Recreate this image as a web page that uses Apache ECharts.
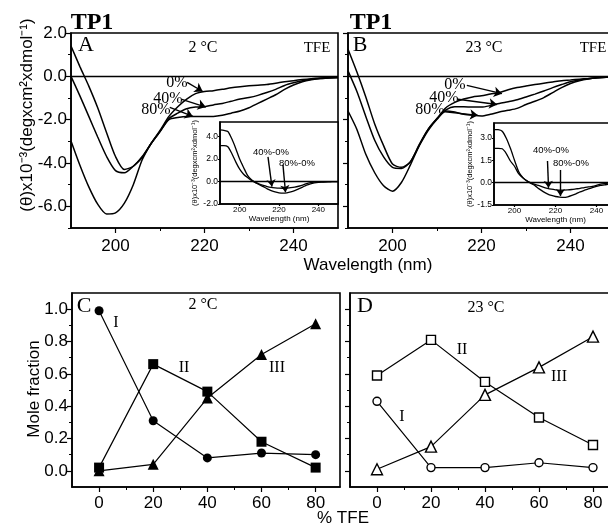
<!DOCTYPE html>
<html>
<head>
<meta charset="utf-8">
<script src="https://cdn.jsdelivr.net/npm/echarts@6/dist/echarts.min.js"></script>
<style>
  html, body { margin: 0; padding: 0; background: #fff; }
  #chart { width: 608px; height: 532px; }
</style>
</head>
<body>
<div id="chart"></div>
<script>
// wavelength grid (nm) shared by all CD curves
const wavelength = [190, 192, 194, 196, 198, 200, 202, 204, 206, 208, 210, 212, 214, 216, 218, 220,
                    222, 224, 226, 228, 230, 232, 234, 236, 238, 240, 242, 244, 246, 248, 250];

// panel A, 2 °C, (θ)x10^-3
const cdA_0  = [-2.98, -4.1, -5.1, -5.9, -6.35, -6.3, -5.85, -5.0, -3.85, -3.1, -2.5, -1.85, -1.4, -1.05, -0.8, -0.7,
                -0.66, -0.6, -0.53, -0.48, -0.44, -0.41, -0.38, -0.32, -0.25, -0.2, -0.15, -0.11, -0.08, -0.06, -0.05];
const cdA_40 = [0.0, -0.9, -1.85, -2.8, -3.7, -4.35, -4.45, -4.15, -3.75, -3.1, -2.55, -1.95, -1.7, -1.5, -1.42, -1.4,
                -1.32, -1.25, -1.15, -1.05, -0.98, -0.88, -0.75, -0.6, -0.42, -0.3, -0.2, -0.14, -0.1, -0.07, -0.05];
const cdA_80 = [1.4, 0.45, -0.45, -1.45, -2.6, -3.7, -4.3, -4.15, -3.7, -3.1, -2.55, -2.0, -1.9, -1.85, -1.85, -1.85,
                -1.85, -1.8, -1.7, -1.6, -1.45, -1.25, -1.05, -0.85, -0.6, -0.4, -0.25, -0.16, -0.1, -0.08, -0.05];

// panel B, 23 °C
const cdB_0  = [-1.6, -2.45, -3.6, -4.45, -5.05, -5.3, -4.9, -4.1, -3.2, -2.45, -1.95, -1.45, -1.2, -1.05, -0.95, -0.9,
                -0.82, -0.75, -0.62, -0.52, -0.45, -0.38, -0.32, -0.26, -0.2, -0.17, -0.13, -0.1, -0.07, -0.04, -0.02];
const cdB_40 = [0.25, -0.7, -1.85, -2.95, -3.72, -4.2, -4.25, -3.95, -3.15, -2.45, -1.95, -1.55, -1.4, -1.4, -1.42, -1.42,
                -1.35, -1.25, -1.17, -1.08, -0.95, -0.82, -0.68, -0.52, -0.38, -0.25, -0.17, -0.11, -0.07, -0.04, -0.02];
const cdB_80 = [1.25, 0.2, -0.95, -2.2, -3.2, -4.05, -4.2, -3.95, -3.2, -2.5, -1.98, -1.6, -1.65, -1.75, -1.8, -1.83,
                -1.75, -1.65, -1.57, -1.48, -1.3, -1.15, -0.98, -0.75, -0.52, -0.33, -0.2, -0.12, -0.07, -0.04, -0.02];

// difference spectra in the insets
const difA_40 = [3.2, 3.2, 3.1, 2.5, 1.75, 1.1, 0.65, 0.35, 0.1, -0.07, -0.22, -0.35, -0.45, -0.52, -0.56, -0.59,
                 -0.6, -0.58, -0.55, -0.5, -0.42, -0.32, -0.18, -0.1, -0.06, -0.04, -0.03, -0.02, -0.01, 0, 0];
const difA_80 = [4.6, 4.55, 4.45, 3.8, 2.95, 2.0, 1.25, 0.55, 0.15, -0.1, -0.27, -0.45, -0.65, -0.8, -0.92, -1.0,
                 -1.03, -1.0, -0.92, -0.8, -0.65, -0.5, -0.32, -0.2, -0.12, -0.07, -0.05, -0.03, -0.02, -0.01, 0];
const difB_40 = [2.3, 2.3, 2.27, 1.95, 1.45, 1.1, 0.6, 0.33, 0.12, -0.02, -0.12, -0.2, -0.3, -0.38, -0.44, -0.48,
                 -0.5, -0.5, -0.49, -0.46, -0.42, -0.38, -0.33, -0.29, -0.25, -0.18, -0.1, -0.06, -0.03, -0.01, 0];
const difB_80 = [3.56, 3.55, 3.45, 2.98, 2.3, 1.5, 0.75, 0.35, 0.12, -0.05, -0.2, -0.42, -0.6, -0.75, -0.86, -0.93,
                 -0.97, -0.99, -0.95, -0.86, -0.75, -0.62, -0.52, -0.42, -0.33, -0.25, -0.19, -0.15, -0.1, -0.06, -0.03];

// mole fractions vs % TFE
const tfe = [0, 20, 40, 60, 80];
const fracC_I   = [0.99, 0.31, 0.08, 0.11, 0.10];
const fracC_II  = [0.02, 0.66, 0.49, 0.18, 0.02];
const fracC_III = [0.0, 0.04, 0.45, 0.72, 0.91];
const fracD_I   = [0.43, 0.02, 0.02, 0.05, 0.02];
const fracD_II  = [0.59, 0.81, 0.55, 0.33, 0.16];
const fracD_III = [0.01, 0.15, 0.47, 0.64, 0.83];

// tick labels
const wlTicks = [200, 220, 240];
const wlMinor = [210, 230];
const cdTicks = [-6, -4, -2, 0, 2];
const cdMinor = [-7, -5, -3, -1, 1];
const insetTicksA = [-2, 0, 2, 4];
const insetTicksB = [-1.5, 0, 1.5, 3];
const tfeTicks = [0, 20, 40, 60, 80];
const tfeMinor = [10, 30, 50, 70];
const fracTicks = [0, 0.2, 0.4, 0.6, 0.8, 1.0];
const fracMinor = [0.1, 0.3, 0.5, 0.7, 0.9];

const SANS = '"Liberation Sans", Arial, sans-serif';
const SERIF = '"Liberation Serif", "Times New Roman", serif';

const chart = echarts.init(document.getElementById('chart'));

const grids = [
  {left: 71, top: 33, width: 267, height: 195},   // A
  {left: 348, top: 33, width: 267, height: 195},  // B
  {left: 220, top: 122, width: 118, height: 82},  // inset A
  {left: 494, top: 123, width: 123, height: 82},  // inset B
  {left: 72, top: 293, width: 268, height: 194},  // C
  {left: 350, top: 293, width: 270, height: 194}  // D
].map(g => Object.assign({show: true, borderColor: '#000', borderWidth: 1.6, backgroundColor: '#fff',
                          outerBoundsMode: 'none', containLabel: false}, g));

const xAxis = [], yAxis = [];

function addAxis(list, dim, grid, min, max, majors, minors, o) {
  o = o || {};
  list.push({
    type: 'value', gridIndex: grid, min: min, max: max,
    position: dim === 'x' ? 'bottom' : 'left',
    axisLine: {show: true, onZero: false, lineStyle: {color: '#000', width: 1.6}},
    axisTick: {show: true, customValues: majors, length: o.tick || 5, lineStyle: {color: '#000', width: 1.2}},
    axisLabel: {show: !!o.label, customValues: majors, formatter: o.fmt, color: '#000',
                fontFamily: SANS, fontSize: o.size || 17, margin: o.margin || 5},
    name: o.name || '', nameLocation: 'middle', nameGap: o.nameGap || 10,
    nameTextStyle: {fontFamily: SANS, fontSize: o.nameSize || 8, color: '#000'},
    splitLine: {show: false}
  });
  const idx = list.length - 1;
  if (minors) {
    list.push({
      type: 'value', gridIndex: grid, min: min, max: max,
      position: dim === 'x' ? 'bottom' : 'left',
      axisLine: {show: false, onZero: false},
      axisTick: {show: true, customValues: minors, length: 3, lineStyle: {color: '#000', width: 1}},
      axisLabel: {show: false},
      splitLine: {show: false}
    });
  }
  return idx;
}

const f1 = v => v.toFixed(1);
const f0 = v => String(v);

const xA = addAxis(xAxis, 'x', 0, 190, 250, wlTicks, wlMinor, {label: true, fmt: f0, margin: 10});
const yA = addAxis(yAxis, 'y', 0, -7, 2, cdTicks, cdMinor, {label: true, fmt: f1, margin: 4});
const xB = addAxis(xAxis, 'x', 1, 190, 250, wlTicks, wlMinor, {label: true, fmt: f0, margin: 10});
const yB = addAxis(yAxis, 'y', 1, -7, 2, cdTicks, cdMinor, {label: false});
const xIA = addAxis(xAxis, 'x', 2, 190, 250, wlTicks, null,
  {label: true, fmt: f0, size: 8, margin: 2, tick: 2, name: 'Wavelength (nm)', nameGap: 9, nameSize: 8});
const yIA = addAxis(yAxis, 'y', 2, -2, 5.3, insetTicksA, null,
  {label: true, fmt: f1, size: 8.5, margin: 2, tick: 2, name: '(θ)x10⁻³(degxcm²xdmol⁻¹)', nameGap: 21, nameSize: 7.5});
const xIB = addAxis(xAxis, 'x', 3, 190, 250, wlTicks, null,
  {label: true, fmt: f0, size: 8, margin: 2, tick: 2, name: 'Wavelength (nm)', nameGap: 9, nameSize: 8});
const yIB = addAxis(yAxis, 'y', 3, -1.5, 4.0, insetTicksB, null,
  {label: true, fmt: f1, size: 8.5, margin: 2, tick: 2, name: '(θ)x10⁻³(degxcm²xdmol⁻¹)', nameGap: 19, nameSize: 7.5});
const xC = addAxis(xAxis, 'x', 4, -10, 89, tfeTicks, tfeMinor, {label: true, fmt: f0, margin: 8});
const yC = addAxis(yAxis, 'y', 4, -0.1, 1.1, fracTicks, fracMinor, {label: true, fmt: f1, margin: 4});
const xD = addAxis(xAxis, 'x', 5, -10, 90, tfeTicks, tfeMinor, {label: true, fmt: f0, margin: 8});
const yD = addAxis(yAxis, 'y', 5, -0.1, 1.1, fracTicks, fracMinor, {label: false});

function marks(items) {
  return {silent: true, animation: false, symbol: ['none', 'none'], label: {show: false},
          lineStyle: {color: '#000', width: 1.4, type: 'solid'}, emphasis: {disabled: true}, data: items};
}
function arrow(from, to, size) {
  return [{coord: from, symbol: 'none'}, {coord: to, symbol: 'arrow', symbolSize: size || 8}];
}
function zero() {
  return [{coord: [190, 0], symbol: 'none'}, {coord: [250, 0], symbol: 'none'}];
}
function curve(xi, yi, vals, lines, width) {
  return {
    type: 'line', xAxisIndex: xi, yAxisIndex: yi, silent: true, animation: false,
    data: wavelength.map((w, i) => [w, vals[i]]),
    showSymbol: false, symbol: 'none', smooth: 0.25,
    lineStyle: {color: '#000', width: width || 1.5},
    markLine: lines ? marks(lines) : undefined
  };
}
function fraction(xi, yi, vals, symbol, size, open) {
  return {
    type: 'line', xAxisIndex: xi, yAxisIndex: yi, silent: true, animation: false,
    data: tfe.map((t, i) => [t, vals[i]]),
    symbol: symbol, symbolSize: size, showSymbol: true,
    lineStyle: {color: '#000', width: 1.2},
    itemStyle: open ? {color: '#fff', borderColor: '#000', borderWidth: 1.4} : {color: '#000', borderWidth: 0},
    z: 3
  };
}

const series = [
  curve(xA, yA, cdA_0, [zero(), arrow([216.1, -0.28], [219.6, -0.7])]),
  curve(xA, yA, cdA_40, [arrow([214.9, -1.06], [220.3, -1.42])]),
  curve(xA, yA, cdA_80, [arrow([212.2, -1.43], [217.4, -1.85])]),
  curve(xB, yB, cdB_0, [zero(), arrow([216.7, -0.42], [224.6, -0.8])]),
  curve(xB, yB, cdB_40, [arrow([214.7, -1.06], [223.5, -1.3])]),
  curve(xB, yB, cdB_80, [arrow([211.3, -1.62], [219.2, -1.8])]),
  curve(xIA, yIA, difA_40, [zero(), arrow([214.4, 2.2], [216.4, -0.45], 7)], 1.3),
  curve(xIA, yIA, difA_80, [arrow([222.0, 1.5], [223.3, -0.95], 7)], 1.3),
  curve(xIB, yIB, difB_40, [zero(), arrow([216.1, 1.45], [216.6, -0.35], 7)], 1.3),
  curve(xIB, yIB, difB_80, [arrow([222.4, 0.85], [222.4, -0.9], 7)], 1.3),
  fraction(xC, yC, fracC_I, 'circle', 9, false),
  fraction(xC, yC, fracC_II, 'rect', 10, false),
  fraction(xC, yC, fracC_III, 'triangle', 11, false),
  fraction(xD, yD, fracD_I, 'circle', 8, true),
  fraction(xD, yD, fracD_II, 'rect', 9, true),
  fraction(xD, yD, fracD_III, 'triangle', 11, true)
];

function txt(text, x, y, font, rotation) {
  return {
    type: 'text', x: x, y: y, rotation: rotation || 0, z: 10, silent: true,
    style: {text: text, font: font, fill: '#000', align: 'center', verticalAlign: 'middle'}
  };
}

const graphic = [
  txt('TP1', 92, 23, 'bold 24px ' + SERIF),
  txt('TP1', 371, 23, 'bold 24px ' + SERIF),
  txt('A', 86, 45, '22px ' + SERIF),
  txt('2 °C', 203, 48, '16px ' + SERIF),
  txt('TFE', 317, 48, '15px ' + SERIF),
  txt('B', 360, 45, '22px ' + SERIF),
  txt('23 °C', 484, 48, '16px ' + SERIF),
  txt('TFE', 593, 48, '15px ' + SERIF),
  txt('0%', 177, 83, '16px ' + SERIF),
  txt('40%', 168, 99, '16px ' + SERIF),
  txt('80%', 156, 110, '16px ' + SERIF),
  txt('0%', 455, 85, '16px ' + SERIF),
  txt('40%', 444, 98, '16px ' + SERIF),
  txt('80%', 430, 110, '16px ' + SERIF),
  txt('40%-0%', 271, 152, '9.5px ' + SANS),
  txt('80%-0%', 297, 163, '9.5px ' + SANS),
  txt('40%-0%', 551, 150, '9.5px ' + SANS),
  txt('80%-0%', 571, 163, '9.5px ' + SANS),
  txt('(θ)x10⁻³(degxcm²xdmol⁻¹)', 27, 115, '17px ' + SANS, Math.PI / 2),
  txt('Wavelength (nm)', 368, 265, '17px ' + SANS),
  txt('C', 84, 306, '22px ' + SERIF),
  txt('2 °C', 203, 305, '16px ' + SERIF),
  txt('I', 116, 323, '16px ' + SERIF),
  txt('II', 184, 368, '16px ' + SERIF),
  txt('III', 277, 368, '16px ' + SERIF),
  txt('D', 365, 306, '22px ' + SERIF),
  txt('23 °C', 486, 308, '16px ' + SERIF),
  txt('II', 462, 350, '16px ' + SERIF),
  txt('III', 559, 377, '16px ' + SERIF),
  txt('I', 402, 417, '16px ' + SERIF),
  txt('Mole fraction', 34, 389, '17px ' + SANS, Math.PI / 2),
  txt('% TFE', 343, 518, '17px ' + SANS)
];

chart.setOption({
  animation: false,
  backgroundColor: '#fff',
  grid: grids,
  xAxis: xAxis,
  yAxis: yAxis,
  series: series,
  graphic: graphic
});
</script>
</body>
</html>
